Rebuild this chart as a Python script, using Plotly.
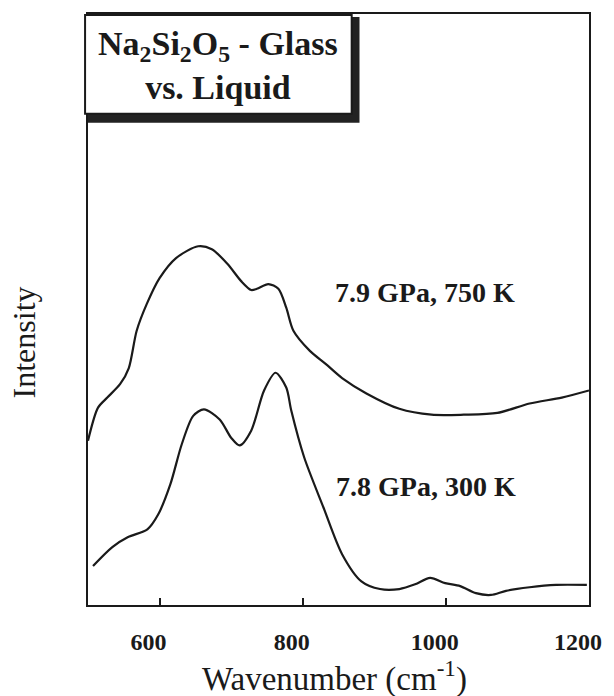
import plotly.graph_objects as go

# Upper spectrum: 7.9 GPa, 750 K (liquid)
liquid_x = [500, 514, 527, 545, 557, 568, 582, 600, 623, 654, 673, 695, 714, 728, 736,
            752, 766, 777, 787, 810, 832, 855, 889, 935, 980, 1025, 1072, 1117, 1162, 1200]
liquid_y = [27.8, 33.4, 35.1, 37.4, 40.1, 46.4, 50.9, 55.3, 58.7, 60.7, 60.2, 57.7, 54.8, 53.3, 53.5,
            54.3, 53.5, 50.3, 46.4, 43.0, 40.8, 38.4, 35.8, 33.2, 32.2, 32.2, 32.5, 34.1, 35.1, 36.3]

# Lower spectrum: 7.8 GPa, 300 K (glass)
glass_x = [507, 534, 556, 583, 598, 615, 631, 647, 662, 684, 700, 712, 728, 746, 762, 777, 784,
           802, 829, 855, 882, 908, 935, 957, 978, 999, 1020, 1042, 1063, 1084, 1117, 1154, 1197]
glass_y = [6.6, 9.8, 11.5, 12.8, 15.3, 20.4, 27.2, 32.0, 33.1, 31.4, 28.3, 27.0, 29.5, 36.3, 39.3, 36.8, 32.9,
           25.0, 16.5, 8.6, 4.0, 2.7, 2.7, 3.5, 4.6, 3.7, 3.2, 2.0, 1.7, 2.4, 3.0, 3.4, 3.4]

tick_vals = [600, 800, 1000, 1200]
tick_text = ["600", "800", "1000", "1200"]

series_labels = ["7.9 GPa, 750 K", "7.8 GPa, 300 K"]
label_x = [971, 972]
label_y = [52.8, 20.1]

box_title = "Na<sub>2</sub>Si<sub>2</sub>O<sub>5</sub> - Glass<br>vs. Liquid"
x_title = "Wavenumber (cm<sup>-1</sup>)"
y_title = "Intensity"

SERIF = "Liberation Serif, Times New Roman, serif"
INK = "#1a1a1a"

fig = go.Figure()
for xs, ys in [(liquid_x, liquid_y), (glass_x, glass_y)]:
    fig.add_trace(go.Scatter(x=xs, y=ys, mode="lines",
                             line=dict(color=INK, width=2.2, shape="spline", smoothing=0.8),
                             showlegend=False, hoverinfo="skip"))

for t, lx, ly in zip(series_labels, label_x, label_y):
    fig.add_annotation(x=lx, y=ly, xref="x", yref="y", text=t, showarrow=False,
                       font=dict(family=SERIF, size=28, color=INK, weight="bold"),
                       xanchor="center", yanchor="middle")

W, H = 614, 696
L, R, T, B = 88, 13, 12, 91
pw, ph = W - L - R, H - T - B

def px(xp):
    return (xp - L) / pw

def py(yp):
    return (H - B - yp) / ph

# title box shadow and box
fig.add_shape(type="rect", xref="paper", yref="paper",
              x0=px(88), x1=px(366), y0=py(121), y1=py(15),
              fillcolor="#222222", line=dict(width=0), layer="above")
fig.add_shape(type="rect", xref="paper", yref="paper",
              x0=px(85), x1=px(358), y0=py(112), y1=py(13),
              fillcolor="white", line=dict(color=INK, width=2), layer="above")
fig.add_annotation(x=px(221), y=py(64), xref="paper", yref="paper", text=box_title,
                   showarrow=False, xanchor="center", yanchor="middle",
                   font=dict(family=SERIF, size=34, color=INK, weight="bold"))

fig.add_annotation(x=px(22), y=py(342), xref="paper", yref="paper", text=y_title,
                   showarrow=False, textangle=-90, xanchor="center", yanchor="middle",
                   font=dict(family=SERIF, size=32, color=INK))
fig.add_annotation(x=px(340), y=py(677), xref="paper", yref="paper", text=x_title,
                   showarrow=False, xanchor="center", yanchor="middle",
                   font=dict(family=SERIF, size=33, color=INK))

fig.update_layout(
    width=W, height=H,
    margin=dict(l=L, r=R, t=T, b=B),
    paper_bgcolor="white", plot_bgcolor="white",
    xaxis=dict(range=[500, 1200], tickvals=tick_vals, ticktext=tick_text,
               ticks="inside", ticklen=7, tickwidth=1.5, tickcolor=INK,
               showline=True, linecolor=INK, linewidth=2, mirror=True,
               showgrid=False, zeroline=False,
               tickfont=dict(family=SERIF, size=24, color=INK, weight="bold"),
               ticklabelshift=-11, ticklabelstandoff=14),
    yaxis=dict(range=[0, 100], showticklabels=False, ticks="",
               showline=True, linecolor=INK, linewidth=2, mirror=True,
               showgrid=False, zeroline=False),
)

fig.write_html("out.html", config={"displayModeBar": False},
               post_script="document.body.style.margin='0px';document.body.style.overflow='hidden';")
